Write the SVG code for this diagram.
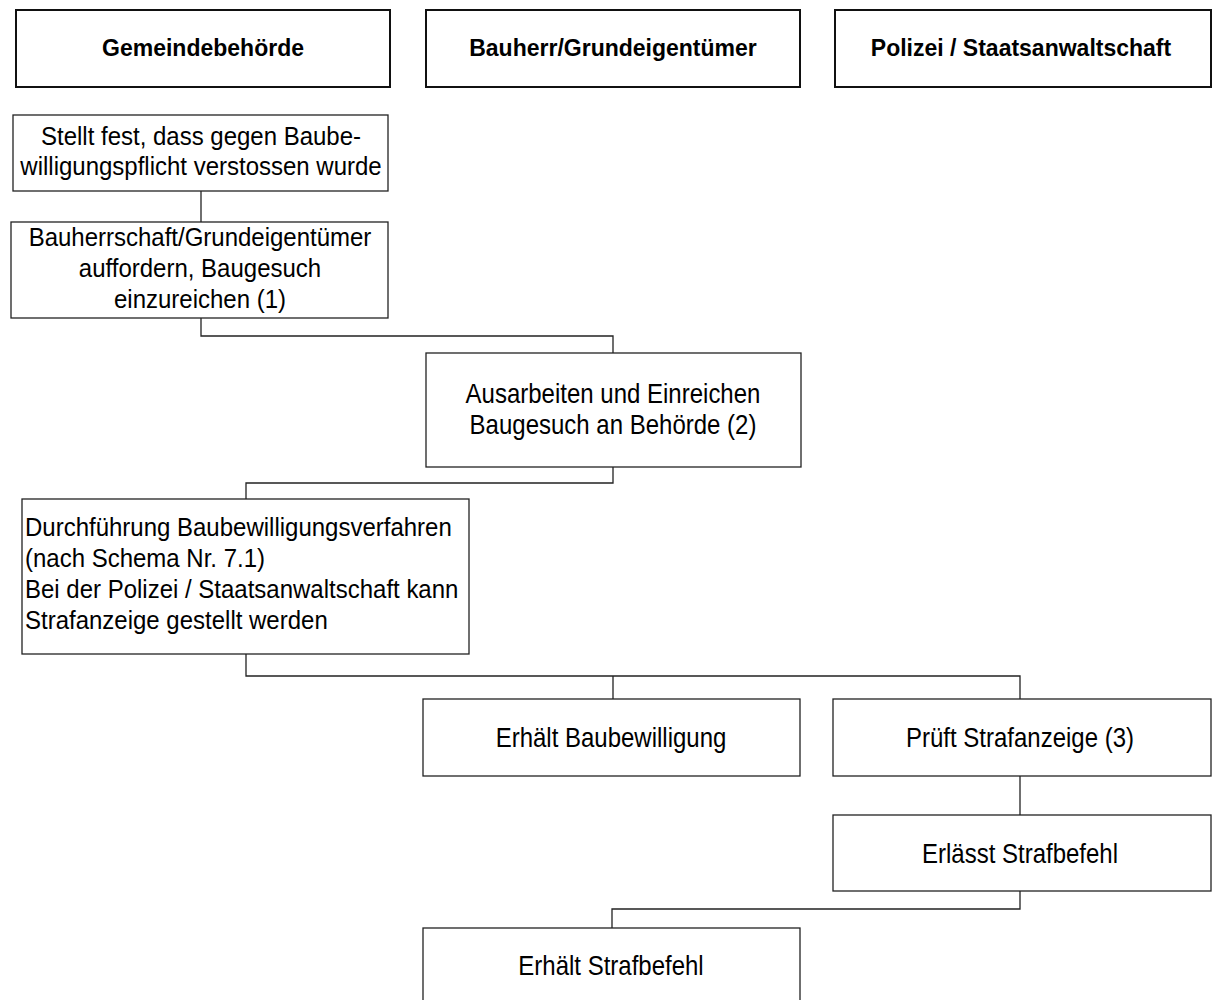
<svg xmlns="http://www.w3.org/2000/svg" width="1212" height="1000" viewBox="0 0 1212 1000">
<style>
.hdr rect{fill:#fff;stroke:#111;stroke-width:2}
.box rect{fill:#fff;stroke:#222;stroke-width:1.3}
.ht{font-family:"Liberation Sans",Arial,sans-serif;font-size:23px;font-weight:bold;fill:#000;text-anchor:middle}
.t{font-family:"Liberation Sans",Arial,sans-serif;font-size:24px;fill:#000;text-anchor:middle}
.tl{font-family:"Liberation Sans",Arial,sans-serif;font-size:24px;fill:#000}
#connectors path{fill:none;stroke:#222;stroke-width:1.3}
</style>
<rect width="1212" height="1000" fill="#fff"/>
<g id="connectors">
<path d="M201 191V222"/>
<path d="M201 318V336H613V353"/>
<path d="M613 467V483H246V499"/>
<path d="M246 654V676H1020V699M613 676V699"/>
<path d="M1020 776V815"/>
<path d="M1020 891V909H612V928"/>
</g>
<g id="h1" class="hdr"><rect x="16" y="10" width="374" height="77"/><text class="ht" x="203" y="56">Gemeindebehörde</text></g>
<g id="h2" class="hdr"><rect x="426" y="10" width="374" height="77"/><text class="ht" x="613" y="56">Bauherr/Grundeigentümer</text></g>
<g id="h3" class="hdr"><rect x="835" y="10" width="376" height="77"/><text class="ht" x="1021" y="56">Polizei / Staatsanwaltschaft</text></g>
<g id="n1" class="box"><rect x="13" y="115" width="375" height="76"/><text class="t" transform="translate(201 145) scale(1 1.07)">Stellt fest, dass gegen Baube-</text><text class="t" transform="translate(201 175) scale(1 1.07)">willigungspflicht verstossen wurde</text></g>
<g id="n2" class="box"><rect x="11" y="222" width="377" height="96"/><text class="t" transform="translate(200 246) scale(1 1.07)">Bauherrschaft/Grundeigentümer</text><text class="t" transform="translate(200 277) scale(1 1.07)">auffordern, Baugesuch</text><text class="t" transform="translate(200 308) scale(1 1.07)">einzureichen (1)</text></g>
<g id="n3" class="box"><rect x="426" y="353" width="375" height="114"/><text class="t" transform="translate(613 403) scale(1 1.15)">Ausarbeiten und Einreichen</text><text class="t" transform="translate(613 434) scale(1 1.15)">Baugesuch an Behörde (2)</text></g>
<g id="n4" class="box"><rect x="22" y="499" width="447" height="155"/><text class="tl" transform="translate(25 536) scale(1 1.1)">Durchführung Baubewilligungsverfahren</text><text class="tl" transform="translate(25 567) scale(1 1.1)">(nach Schema Nr. 7.1)</text><text class="tl" transform="translate(25 598) scale(1 1.1)">Bei der Polizei / Staatsanwaltschaft kann</text><text class="tl" transform="translate(25 629) scale(1 1.1)">Strafanzeige gestellt werden</text></g>
<g id="n5" class="box"><rect x="423" y="699" width="377" height="77"/><text class="t" transform="translate(611 747) scale(1 1.12)">Erhält Baubewilligung</text></g>
<g id="n6" class="box"><rect x="833" y="699" width="378" height="77"/><text class="t" transform="translate(1020 747) scale(1 1.12)">Prüft Strafanzeige (3)</text></g>
<g id="n7" class="box"><rect x="833" y="815" width="378" height="76"/><text class="t" transform="translate(1020 863) scale(1 1.12)">Erlässt Strafbefehl</text></g>
<g id="n8" class="box"><rect x="423" y="928" width="377" height="80"/><text class="t" transform="translate(611 975) scale(1 1.12)">Erhält Strafbefehl</text></g>
</svg>
